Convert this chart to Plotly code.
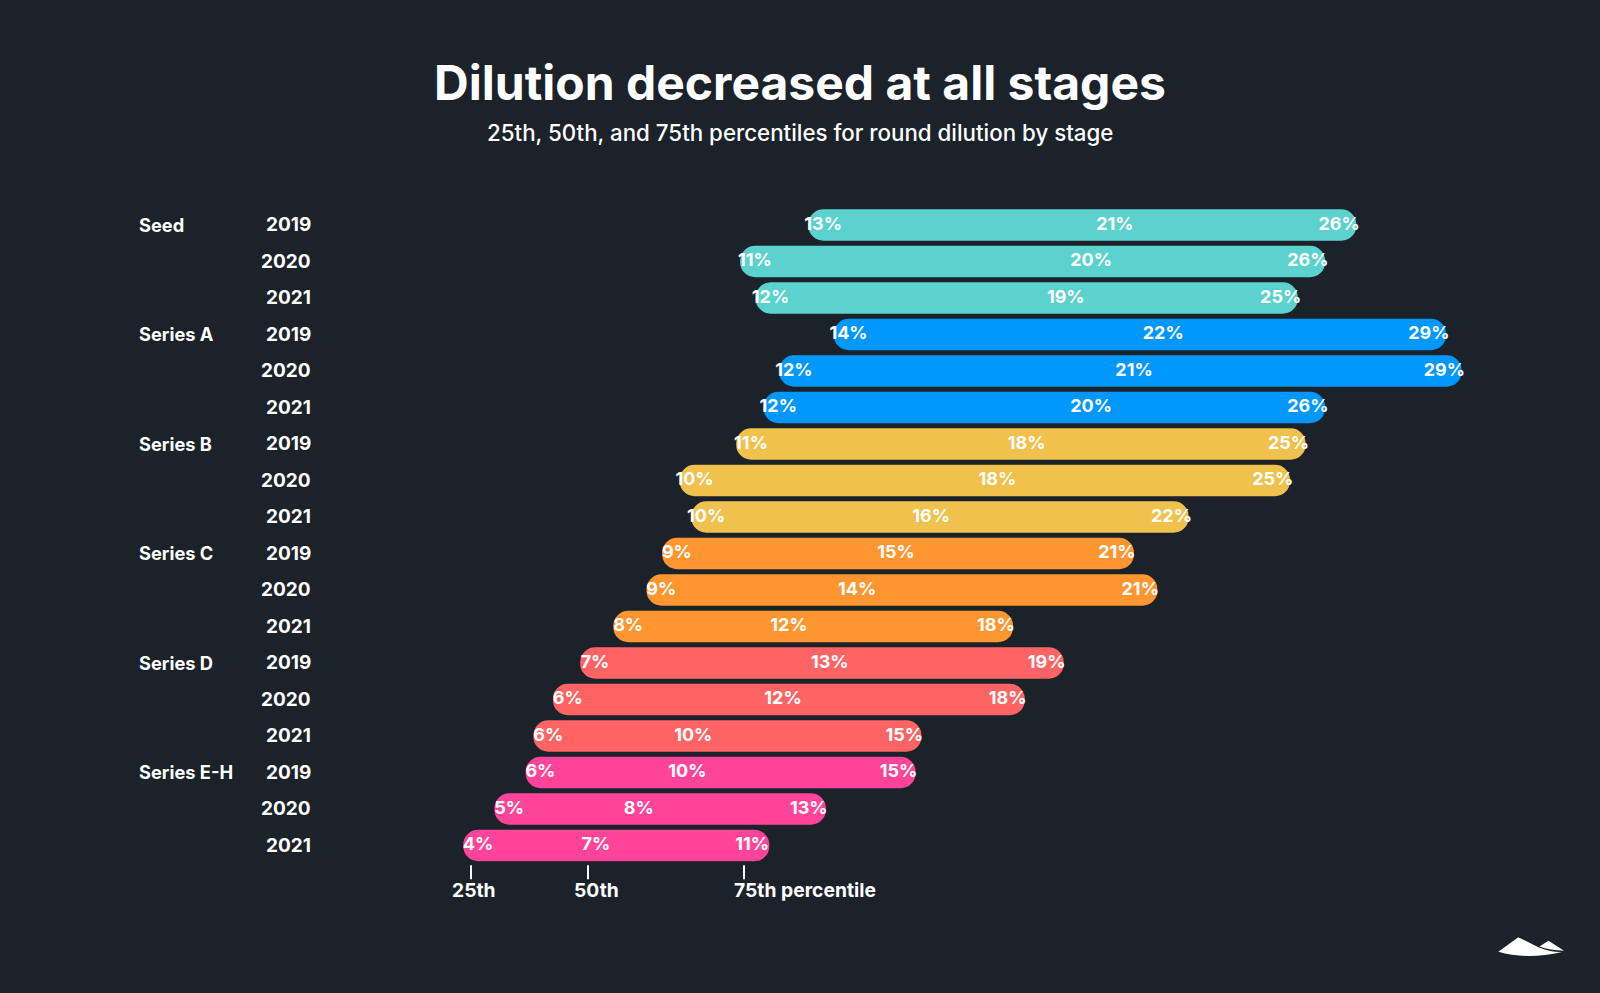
"""Dilution percentiles by stage and year, drawn as floating rounded bars."""

import plotly.graph_objects as go

stages = ['Seed', 'Series A', 'Series B', 'Series C', 'Series D', 'Series E-H']
years = [2019, 2020, 2021]
stage_colors = ['#5cd2ce', '#0098ff', '#f0c14c', '#ff9630', '#ff6464', '#ff4499']

# one value per row, stage by stage, three years each
p25 = [12.85, 11.1, 11.5, 13.5, 12.1, 11.7,
       11.0, 9.55, 9.85, 9.1, 8.7, 7.85,
       7.0, 6.3, 5.8, 5.6, 4.8, 4.0]
p50 = [20.51, 19.9, 19.25, 21.75, 21.0, 19.9,
       18.25, 17.5, 15.8, 14.9, 13.9, 12.15,
       13.2, 12.0, 9.7, 9.55, 8.3, 7.2]
p75 = [26.3, 25.5, 24.8, 28.6, 29.0, 25.5,
       25.0, 24.6, 22.0, 20.6, 21.2, 17.5,
       18.8, 17.8, 15.15, 15.0, 12.7, 11.25]

tick_values = [4.0, 7.0, 11.0]
tick_labels = ['25th', '50th', '75th percentile']

WIDTH, HEIGHT = 1600, 993
BG = '#1b222a'
FONT = 'Inter'
CAP_LEFT, CAP_RIGHT = 0.2, 0.4     # bars run a little past the percentile values
LOW_LABEL_SHIFT = 0.18
HIGH_LABEL_SHIFT = -0.04


def label_list(values):
    return [f'{round(v)}%' for v in values]


def paper_x(px):
    return px / WIDTH


def paper_y(px):
    return 1 - px / HEIGHT


def logo_path(points):
    out = []
    for cmd, *coords in points:
        xy = [f'{paper_x(coords[i]):.5f},{paper_y(coords[i + 1]):.5f}' for i in range(0, len(coords), 2)]
        out.append(cmd + ' '.join(xy))
    return ' '.join(out) + ' Z'


rows = list(range(len(p25)))
fig = go.Figure()

for i, stage in enumerate(stages):
    idx = rows[i * 3:(i + 1) * 3]
    fig.add_trace(go.Bar(
        y=idx,
        base=[p25[j] - CAP_LEFT for j in idx],
        x=[p75[j] + CAP_RIGHT - p25[j] + CAP_LEFT for j in idx],
        orientation='h',
        name=stage,
        marker=dict(color=stage_colors[i], cornerradius=15.5, line=dict(width=0)),
        hoverinfo='skip',
    ))

label_font = dict(family=FONT, size=18, color='white', weight=700)
for xs, texts in [
    ([v + LOW_LABEL_SHIFT for v in p25], label_list(p25)),
    (p50, label_list(p50)),
    ([v + HIGH_LABEL_SHIFT for v in p75], label_list(p75)),
]:
    fig.add_trace(go.Scatter(
        x=xs, y=rows, text=texts, mode='text',
        textposition='middle center', textfont=label_font,
        showlegend=False, hoverinfo='skip',
    ))

# percentile key under the last row
fig.add_trace(go.Scatter(
    x=tick_values, y=[17.73] * 3, mode='markers',
    marker=dict(symbol='line-ns-open', size=10, color='white', line=dict(color='white', width=2)),
    showlegend=False, hoverinfo='skip',
))

annotations = [dict(
    text='25th, 50th, and 75th percentiles for round dilution by stage',
    xref='paper', yref='paper', x=0.5, y=paper_y(132), yanchor='middle', showarrow=False,
    font=dict(family=FONT, size=22.3, color='white', weight=500),
)]
stage_font = dict(family=FONT, size=18.3, color='white', weight=700)
year_font = dict(family=FONT, size=19, color='white', weight=700)
key_font = dict(family=FONT, size=19.3, color='white', weight=700)
for i, stage in enumerate(stages):
    annotations.append(dict(
        text=stage, xref='paper', yref='y', x=paper_x(137), y=i * 3, yshift=0.5,
        xanchor='left', yanchor='middle', showarrow=False, font=stage_font,
    ))
for j in rows:
    annotations.append(dict(
        text=str(years[j % 3]), xref='paper', yref='y', x=paper_x(313), y=j, yshift=0.5,
        xanchor='right', yanchor='middle', showarrow=False, font=year_font,
    ))
for value, label, anchor, shift in zip(tick_values, tick_labels, ['center', 'center', 'left'], [3, 8, -12]):
    annotations.append(dict(
        text=label, xref='x', yref='y', x=value, y=18.23, xanchor=anchor, yanchor='middle', xshift=shift,
        showarrow=False, font=key_font,
    ))

logo_big = [('M', 1498.3, 951.7), ('L', 1518.3, 937.3), ('L', 1539, 947.5),
            ('Q', 1552, 952.5, 1562, 952), ('Q', 1527, 960, 1498.3, 951.7)]
logo_small = [('M', 1539.5, 946.5), ('L', 1548.5, 940.7), ('L', 1564, 950.7),
              ('Q', 1550, 950.5, 1539.5, 946.5)]

fig.update_layout(
    width=WIDTH,
    height=HEIGHT,
    autosize=False,
    margin=dict(l=0, r=0, t=0, b=0),
    paper_bgcolor=BG,
    plot_bgcolor=BG,
    showlegend=False,
    barmode='overlay',
    bargap=0.137,
    title=dict(
        text='Dilution decreased at all stages',
        x=0.5, xanchor='center', y=paper_y(83), yanchor='middle',
        font=dict(family=FONT, size=48, color='white', weight=700),
    ),
    xaxis=dict(range=[-315 / 39, (WIDTH - 315) / 39], visible=False, fixedrange=True),
    yaxis=dict(range=[(HEIGHT - 225) / 36.5, -225 / 36.5], visible=False, fixedrange=True),
    annotations=annotations,
    shapes=[dict(type='path', xref='paper', yref='paper', path=logo_path(p),
                 fillcolor='white', line=dict(width=0))
            for p in (logo_big, logo_small)],
)

# the page's default margin would leave a white frame round the chart
fig.write_html('out.html', config={'displayModeBar': False},
               post_script="document.body.style.margin = '0';")
